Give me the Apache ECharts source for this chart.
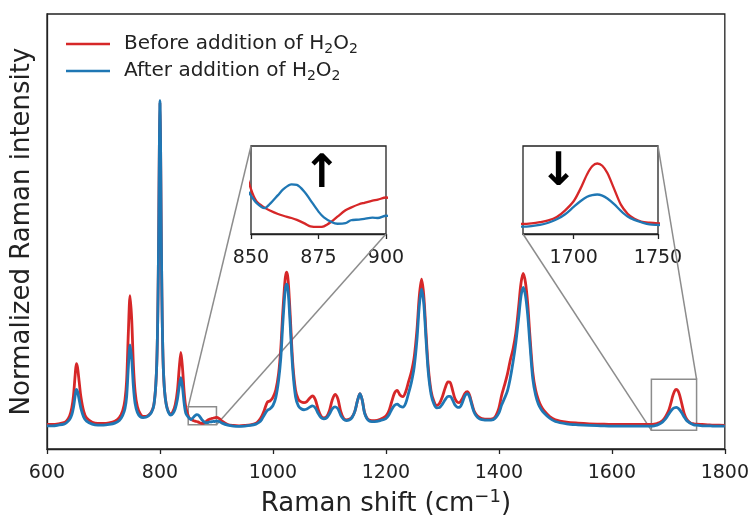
<!DOCTYPE html>
<html>
<head>
<meta charset="utf-8">
<script src="https://cdn.jsdelivr.net/npm/echarts@6/dist/echarts.min.js"></script>
<style>
  html, body { margin: 0; padding: 0; background: #fff; }
  #chart { width: 752px; height: 522px; }
</style>
</head>
<body>
<div id="chart"></div>
<script>
// Raman shift grid (cm^-1)
const shift = [
  600, 610, 620, 630, 635, 640, 644, 647, 650, 652, 654, 657, 660, 665, 670, 680, 690, 700, 710, 720,
  728, 734, 738, 741, 744, 747, 750, 753, 756, 760, 765, 770, 775, 780, 785, 789, 792, 794, 795, 796,
  797, 798, 799, 800, 801, 802, 803, 804, 805, 806, 808, 811, 815, 819, 823, 827, 831, 834, 837, 840,
  843, 846, 850, 852, 855, 857, 860, 862, 865, 867, 870, 872, 875, 877, 880, 882, 885, 887, 890, 892,
  895, 897, 900, 905, 910, 920, 930, 940, 950, 960, 970, 975, 980, 985, 990, 995, 1000, 1005, 1010, 1014,
  1017, 1020, 1022, 1024, 1026, 1028, 1031, 1035, 1040, 1045, 1050, 1055, 1060, 1065, 1070, 1075, 1080, 1085, 1090, 1095,
  1100, 1105, 1110, 1115, 1120, 1125, 1130, 1135, 1140, 1145, 1150, 1154, 1158, 1162, 1166, 1170, 1175, 1180, 1190, 1200,
  1205, 1210, 1215, 1220, 1225, 1230, 1235, 1240, 1245, 1250, 1255, 1259, 1263, 1267, 1271, 1275, 1280, 1285, 1290, 1295,
  1300, 1305, 1310, 1314, 1318, 1322, 1326, 1330, 1335, 1340, 1344, 1348, 1352, 1356, 1360, 1365, 1370, 1380, 1390, 1395,
  1400, 1405, 1410, 1415, 1420, 1425, 1430, 1435, 1439, 1443, 1447, 1451, 1455, 1460, 1465, 1470, 1475, 1480, 1490, 1500,
  1520, 1540, 1560, 1580, 1600, 1620, 1640, 1660, 1670, 1675, 1680, 1685, 1690, 1695, 1700, 1704, 1708, 1711, 1714, 1717,
  1720, 1724, 1728, 1732, 1736, 1740, 1745, 1750, 1760, 1770, 1780, 1790, 1800
];

// Normalized intensity before H2O2 was added
const before = [
  0.010, 0.010, 0.012, 0.016, 0.022, 0.036, 0.062, 0.100, 0.165, 0.196, 0.185, 0.140, 0.095, 0.050, 0.030, 0.017, 0.013, 0.013, 0.015, 0.020,
  0.031, 0.052, 0.085, 0.145, 0.290, 0.404, 0.330, 0.190, 0.110, 0.065, 0.043, 0.035, 0.035, 0.039, 0.049, 0.069, 0.116, 0.180, 0.240, 0.330,
  0.470, 0.660, 0.880, 0.995, 0.880, 0.660, 0.470, 0.330, 0.240, 0.180, 0.116, 0.073, 0.049, 0.042, 0.050, 0.070, 0.115, 0.180, 0.230, 0.180,
  0.105, 0.060, 0.037, 0.0295, 0.0255, 0.0237, 0.0215, 0.0204, 0.0190, 0.0178, 0.0155, 0.0138, 0.0134, 0.0138, 0.0170, 0.0198, 0.0238, 0.0255, 0.0276, 0.0285,
  0.0298, 0.0305, 0.0318, 0.028, 0.020, 0.010, 0.007, 0.006, 0.007, 0.009, 0.014, 0.022, 0.035, 0.055, 0.078, 0.082, 0.093, 0.115, 0.165, 0.245,
  0.340, 0.420, 0.460, 0.476, 0.465, 0.425, 0.330, 0.200, 0.115, 0.087, 0.079, 0.077, 0.080, 0.090, 0.097, 0.086, 0.057, 0.036, 0.030, 0.034,
  0.052, 0.085, 0.102, 0.088, 0.050, 0.029, 0.024, 0.026, 0.033, 0.050, 0.085, 0.104, 0.085, 0.048, 0.031, 0.024, 0.022, 0.022, 0.026, 0.036,
  0.050, 0.078, 0.105, 0.114, 0.100, 0.095, 0.110, 0.140, 0.170, 0.215, 0.300, 0.400, 0.454, 0.405, 0.290, 0.185, 0.112, 0.081, 0.068, 0.075,
  0.095, 0.122, 0.140, 0.138, 0.115, 0.090, 0.079, 0.077, 0.088, 0.105, 0.110, 0.100, 0.075, 0.052, 0.040, 0.032, 0.028, 0.026, 0.028, 0.038,
  0.060, 0.100, 0.130, 0.163, 0.205, 0.240, 0.290, 0.370, 0.440, 0.472, 0.445, 0.380, 0.280, 0.170, 0.115, 0.085, 0.065, 0.052, 0.034, 0.024,
  0.017, 0.014, 0.012, 0.011, 0.010, 0.010, 0.010, 0.010, 0.010, 0.011, 0.013, 0.016, 0.022, 0.034, 0.050, 0.072, 0.098, 0.112, 0.117, 0.113,
  0.100, 0.072, 0.044, 0.028, 0.019, 0.014, 0.012, 0.011, 0.010, 0.009, 0.008, 0.008, 0.007
];

// Normalized intensity after H2O2 was added
const after = [
  0.006, 0.006, 0.008, 0.011, 0.016, 0.025, 0.040, 0.063, 0.100, 0.117, 0.111, 0.085, 0.059, 0.032, 0.020, 0.011, 0.008, 0.008, 0.010, 0.014,
  0.022, 0.038, 0.058, 0.095, 0.185, 0.253, 0.210, 0.125, 0.074, 0.047, 0.034, 0.031, 0.032, 0.037, 0.047, 0.067, 0.115, 0.180, 0.240, 0.330,
  0.470, 0.660, 0.880, 1.000, 0.880, 0.660, 0.470, 0.330, 0.240, 0.180, 0.115, 0.071, 0.047, 0.039, 0.044, 0.058, 0.088, 0.125, 0.153, 0.122,
  0.072, 0.043, 0.033, 0.0285, 0.0252, 0.0278, 0.0333, 0.0370, 0.0400, 0.0397, 0.0350, 0.0302, 0.0230, 0.0194, 0.0163, 0.0154, 0.0158, 0.0176, 0.0180, 0.0185,
  0.0192, 0.0190, 0.0204, 0.019, 0.014, 0.008, 0.005, 0.004, 0.005, 0.007, 0.011, 0.016, 0.025, 0.040, 0.053, 0.058, 0.068, 0.092, 0.145, 0.215,
  0.305, 0.385, 0.425, 0.439, 0.430, 0.392, 0.300, 0.180, 0.095, 0.067, 0.058, 0.055, 0.057, 0.063, 0.067, 0.061, 0.044, 0.031, 0.027, 0.030,
  0.042, 0.058, 0.064, 0.058, 0.038, 0.026, 0.022, 0.024, 0.031, 0.050, 0.085, 0.104, 0.085, 0.046, 0.029, 0.021, 0.019, 0.019, 0.022, 0.028,
  0.038, 0.055, 0.068, 0.072, 0.066, 0.063, 0.075, 0.105, 0.138, 0.185, 0.270, 0.370, 0.424, 0.380, 0.270, 0.170, 0.102, 0.073, 0.061, 0.062,
  0.072, 0.086, 0.096, 0.096, 0.085, 0.070, 0.063, 0.062, 0.075, 0.098, 0.104, 0.095, 0.070, 0.048, 0.036, 0.028, 0.025, 0.023, 0.025, 0.032,
  0.045, 0.070, 0.090, 0.112, 0.150, 0.200, 0.260, 0.335, 0.400, 0.429, 0.405, 0.345, 0.255, 0.150, 0.100, 0.072, 0.056, 0.045, 0.029, 0.019,
  0.012, 0.009, 0.007, 0.006, 0.005, 0.005, 0.005, 0.005, 0.005, 0.006, 0.008, 0.012, 0.018, 0.027, 0.040, 0.050, 0.058, 0.061, 0.062, 0.060,
  0.055, 0.045, 0.033, 0.023, 0.017, 0.013, 0.009, 0.008, 0.006, 0.006, 0.005, 0.005, 0.005
];

// Axis ticks
const mainTicks = [600, 800, 1000, 1200, 1400, 1600, 1800];
const lowTicks = [850, 875, 900];
const highTicks = [1700, 1750];

// Zoomed windows: [min, max] along each axis
const lowWinX = [850, 900];
const lowWinY = [0.009, 0.064];
const highWinX = [1670, 1750];
const highWinY = [-0.008, 0.148];

const seriesNames = ['Before addition of H\u2082O\u2082', 'After addition of H\u2082O\u2082'];

const RED = '#d62728';
const BLUE = '#1f77b4';
const INK = '#222222';
const FRAME_GRAY = '#8c8c8c';
const FONT = '"DejaVu Sans", sans-serif';
const TICK_SIZE = 19;
const LEGEND_SIZE = 20;
const TITLE_SIZE = 26;

const pairs = ys => shift.map((x, i) => [x, ys[i]]);
const plainNumber = v => String(v);
// Turn the unicode subscript two into a rich-text subscript fragment
const withSubscripts = s => s.replace(/([^\u2082]+)/g, '{t|$1}').replace(/\u2082/g, '{s|2}');

const chart = echarts.init(document.getElementById('chart'), null, { renderer: 'canvas' });

function lineSeries(name, ys, color, axisIdx, width, extra) {
  return Object.assign({
    name: name,
    type: 'line',
    xAxisIndex: axisIdx,
    yAxisIndex: axisIdx,
    data: pairs(ys),
    symbol: 'none',
    smooth: 0.3,
    clip: true,
    lineStyle: { color: color, width: width },
    itemStyle: { color: color },
    emphasis: { disabled: true },
    z: 3
  }, extra || {});
}

function insetXAxis(idx, range, ticks) {
  return {
    gridIndex: idx,
    type: 'value',
    min: range[0],
    max: range[1],
    axisLine: { show: true, onZero: false, lineStyle: { color: INK, width: 1.3 } },
    axisTick: { show: true, length: 5, customValues: ticks, lineStyle: { color: INK, width: 1.3 } },
    axisLabel: { show: true, customValues: ticks, formatter: plainNumber, fontSize: TICK_SIZE, fontFamily: FONT, color: INK, margin: 15 },
    splitLine: { show: false }
  };
}

function insetYAxis(idx, range) {
  return {
    gridIndex: idx,
    type: 'value',
    min: range[0],
    max: range[1],
    axisLine: { show: false },
    axisTick: { show: false },
    axisLabel: { show: false },
    splitLine: { show: false }
  };
}

const boxStyle = { color: 'rgba(0,0,0,0)', borderColor: FRAME_GRAY, borderWidth: 1.5 };

chart.setOption({
  animation: false,
  backgroundColor: '#ffffff',
  textStyle: { fontFamily: FONT },
  legend: {
    data: seriesNames,
    orient: 'vertical',
    left: 61,
    top: 29,
    itemWidth: 44,
    itemHeight: 12,
    itemGap: 5,
    icon: 'path://M0,0 L44,0 L44,2.6 L0,2.6 Z',
    formatter: withSubscripts,
    textStyle: {
      fontSize: LEGEND_SIZE, fontFamily: FONT, color: INK, padding: [0, 0, 0, 9],
      rich: {
        t: { fontSize: LEGEND_SIZE, fontFamily: FONT, color: INK, lineHeight: 24 },
        s: { fontSize: 14, fontFamily: FONT, color: INK, verticalAlign: 'bottom' }
      }
    },
    selectedMode: false
  },
  grid: [
    { left: 47, top: 14, width: 679, height: 441, show: true, borderColor: INK, borderWidth: 1.3, backgroundColor: 'transparent', containLabel: false },
    { left: 251, top: 146, width: 135, height: 88, show: true, borderColor: INK, borderWidth: 1.3, backgroundColor: '#fff', containLabel: false },
    { left: 523, top: 146, width: 135, height: 88, show: true, borderColor: INK, borderWidth: 1.3, backgroundColor: '#fff', containLabel: false }
  ],
  xAxis: [
    {
      gridIndex: 0,
      type: 'value',
      min: mainTicks[0],
      max: mainTicks[mainTicks.length - 1],
      interval: 200,
      axisLine: { show: true, onZero: false, lineStyle: { color: INK, width: 1.3 } },
      axisTick: { show: true, length: 5, lineStyle: { color: INK, width: 1.3 } },
      axisLabel: { formatter: plainNumber, fontSize: TICK_SIZE, fontFamily: FONT, color: INK, margin: 15 },
      splitLine: { show: false },
      name: '{b|Raman shift (cm}{p|\u22121}{b|)}',
      nameLocation: 'middle',
      nameGap: 39,
      nameTextStyle: {
        fontSize: TITLE_SIZE, fontFamily: FONT, color: INK,
        rich: {
          b: { fontSize: TITLE_SIZE, fontFamily: FONT, color: INK, lineHeight: 32 },
          p: { fontSize: 18, fontFamily: FONT, color: INK, verticalAlign: 'top' }
        }
      }
    },
    insetXAxis(1, lowWinX, lowTicks),
    insetXAxis(2, highWinX, highTicks)
  ],
  yAxis: [
    {
      gridIndex: 0,
      type: 'value',
      min: -0.065,
      max: 1.265,
      axisLine: { show: true, lineStyle: { color: INK, width: 1.3 } },
      axisTick: { show: false },
      axisLabel: { show: false },
      splitLine: { show: false },
      name: 'Normalized Raman intensity',
      nameLocation: 'middle',
      nameGap: 12,
      nameTextStyle: { fontSize: TITLE_SIZE, fontFamily: FONT, color: INK }
    },
    insetYAxis(1, lowWinY),
    insetYAxis(2, highWinY)
  ],
  series: [
    lineSeries(seriesNames[0], before, RED, 0, 2.8, {
      markArea: {
        silent: true,
        itemStyle: boxStyle,
        data: [
          [{ xAxis: lowWinX[0], yAxis: lowWinY[0] }, { xAxis: lowWinX[1], yAxis: lowWinY[1] }],
          [{ xAxis: highWinX[0], yAxis: highWinY[0] }, { xAxis: highWinX[1], yAxis: highWinY[1] }]
        ]
      }
    }),
    lineSeries(seriesNames[1], after, BLUE, 0, 2.8),
    lineSeries(seriesNames[0], before, RED, 1, 2.3),
    lineSeries(seriesNames[1], after, BLUE, 1, 2.3),
    lineSeries(seriesNames[0], before, RED, 2, 2.3),
    lineSeries(seriesNames[1], after, BLUE, 2, 2.3)
  ]
});

// Connector lines between each zoom box and its inset, plus trend arrows
const px = (g, v) => chart.convertToPixel({ gridIndex: g }, v);
function connector(a, b) {
  return {
    type: 'line',
    silent: true,
    z: 1,
    shape: { x1: a[0], y1: a[1], x2: b[0], y2: b[1] },
    style: { stroke: FRAME_GRAY, lineWidth: 1.5 }
  };
}
function arrowText(g, v, glyph) {
  const p = px(g, v);
  return {
    type: 'text',
    silent: true,
    z: 10,
    x: p[0],
    y: p[1],
    style: { text: glyph, fill: '#000', font: 'bold 46px "DejaVu Sans", sans-serif', align: 'center', verticalAlign: 'middle' }
  };
}

chart.setOption({
  graphic: [
    connector(px(0, [lowWinX[0], lowWinY[1]]), px(1, [lowWinX[0], lowWinY[1]])),
    connector(px(0, [lowWinX[1], lowWinY[0]]), px(1, [lowWinX[1], lowWinY[0]])),
    connector(px(0, [highWinX[0], highWinY[0]]), px(2, [highWinX[0], highWinY[0]])),
    connector(px(0, [highWinX[1], highWinY[1]]), px(2, [highWinX[1], highWinY[1]])),
    arrowText(1, [876.2, 0.046], '\u2191'),
    arrowText(2, [1691, 0.100], '\u2193')
  ]
});
</script>
</body>
</html>
